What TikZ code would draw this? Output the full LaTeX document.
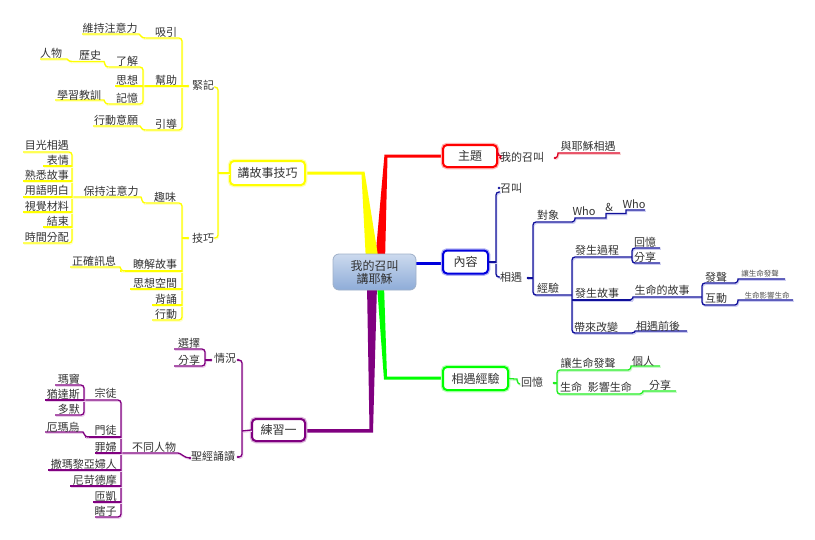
\documentclass[tikz,border=0pt]{standalone}
\usepackage{fontspec}
\setmainfont{Noto Sans CJK TC}
\definecolor{tcol}{HTML}{333333}
\definecolor{ycol}{HTML}{FFFF00}
\definecolor{yshad}{HTML}{FFFFC8}
\definecolor{bcol}{HTML}{10109A}
\definecolor{bshad}{HTML}{CCCCF2}
\definecolor{pcol}{HTML}{800080}
\definecolor{pshad}{HTML}{EBCDEB}
\definecolor{gcol}{HTML}{22EE22}
\definecolor{gshad}{HTML}{CCF8CC}
\definecolor{rcol}{HTML}{DD0022}
\definecolor{rshad}{HTML}{F8CCCC}
\definecolor{mR}{HTML}{FF0000}
\definecolor{mY}{HTML}{FFFF00}
\definecolor{mB}{HTML}{0000DD}
\definecolor{mG}{HTML}{00FF00}
\definecolor{mP}{HTML}{800080}
\definecolor{ctop}{HTML}{CCDAEE}
\definecolor{cbot}{HTML}{8EACD8}
\definecolor{cbord}{HTML}{9FB0C8}
\begin{document}
\begin{tikzpicture}[x=1pt,y=-1pt,
  lb/.style={font=\fontsize{11}{12}\selectfont, text=tcol, inner sep=0pt},
  sm/.style={font=\fontsize{7.5}{8}\selectfont, text=tcol!85, inner sep=0pt},
  subl/.style 2 args={draw=#1, line width=1.3pt, rounded corners=3pt,
     preaction={draw=#2, line width=1.3pt, transform canvas={shift={(0.8pt,-1.3pt)}}}},
  yl/.style={subl={ycol}{yshad}},
  bl/.style={subl={bcol}{bshad}},
  pl/.style={subl={pcol}{pshad}},
  gl/.style={subl={gcol}{gshad}},
  rl/.style={subl={rcol}{rshad}},
  dotc/.style={fill=#1, draw=none, circle, inner sep=0pt, minimum size=2.6pt},
  mbox/.style={draw=#1, line width=2pt, rounded corners=4pt, fill=white,
     minimum height=22pt, inner xsep=4pt, font=\fontsize{12}{13}\selectfont, text=tcol,
     preaction={draw=#1!30, line width=4.5pt}},
]
\useasboundingbox (0,0) rectangle (815,539);

% ---------- thick main branches ----------
\fill[mR] (384.5,154.5) -- (443,154.5) -- (443,157.5) -- (387.5,157.5) -- (385,262) -- (375,262) -- cycle;
\fill[mY] (305,171.5) -- (364.5,171.5) -- (379,262) -- (366,262) -- (361.5,174.5) -- (305,174.5) -- cycle;
\fill[mP] (367,285) -- (377,285) -- (373,432.5) -- (305,432.5) -- (305,429) -- (369.5,429) -- cycle;
\fill[mG] (377,285) -- (384,285) -- (387,376.5) -- (443,376.5) -- (443,379.5) -- (384,379.5) -- cycle;
\draw[mB, line width=3pt] (416,263) -- (443,263);

% ---------- central and main topics ----------
\node[draw=cbord, line width=0.8pt, rounded corners=6pt, top color=ctop, bottom color=cbot,
      minimum width=83pt, minimum height=36pt, align=center, inner sep=0pt,
      font=\fontsize{12}{13}\selectfont, text=tcol] (root) at (374.5,272) {我的召叫\\講耶穌};
\node[mbox=mR, minimum width=54pt] (zt) at (470,156) {主題};
\node[mbox=mY, minimum width=75pt, minimum height=24pt] (js) at (267.5,173) {講故事技巧};
\node[mbox=mB, minimum width=45pt, minimum height=23pt] (nr) at (465.5,262) {內容};
\node[mbox=mG, minimum width=65pt, minimum height=23pt] (xy) at (475.5,378.5) {相遇經驗};
\node[mbox=mP, minimum width=53pt] (lx) at (278.5,430) {練習一};

% ---------- yellow: 講故事技巧 ----------
\draw[yl] (214,87) -- (218,87) -- (218,238) -- (214,238);
\draw[yl] (218,173) -- (js.west);
\node[lb] (jinji) at (203,85) {緊記};
\node[lb] (jiqiao) at (203,238) {技巧};

\draw[yl] (143,38) -- (182,38) -- (182,130) -- (143,130);
\draw[yl] (115,86) -- (188,86);
\node[dotc=ycol] (d1) at (188,86) {};
\node[lb] (xiyin) at (166,32) {吸引};
\node[lb] (bangzhu) at (166,80) {幫助};
\node[lb] (yindao) at (166,124) {引導};
\draw[yl] (82,34) -- (136,34) to[out=0,in=180] (145,38);
\node[lb] (wczy) at (110,28) {維持注意力};
\draw[yl] (106,67) -- (143,67) -- (143,104) -- (106,104);
\node[lb] (liaojie) at (127,61) {了解};
\node[lb] (sixiang) at (127,80) {思想};
\node[lb] (jiyi) at (127,98) {記憶};
\draw[yl] (70,61.5) -- (101,61.5) to[out=0,in=180] (108,67);
\node[lb] (lishi) at (90,55) {歷史};
\draw[yl] (40,59) -- (64,59) to[out=0,in=180] (72,61.5);
\node[lb] (renwu) at (51,53) {人物};
\draw[yl] (55,100) -- (101,100) to[out=0,in=180] (108,104);
\node[lb] (xxjx) at (79,95) {學習教訓};
\draw[yl] (93,126) -- (137,126) to[out=0,in=180] (145,130);
\node[lb] (xdyy) at (116,120) {行動意願};

\draw[yl] (143,203) -- (182,203) -- (182,320) -- (152,320);
\draw[yl] (182,238) -- (188,238);
\node[dotc=ycol] (d2) at (188,238) {};
\node[lb] (quwei) at (165,197) {趣味};
\draw[yl] (120,271) -- (182,271);
\node[lb] (ljgs) at (155,264) {瞭解故事};
\draw[yl] (130,289) -- (182,289);
\node[lb] (sxkj) at (155,283) {思想空間};
\draw[yl] (152,305) -- (182,305);
\node[lb] (beisong) at (166,299) {背誦};
\node[lb] (xingdong) at (166,314) {行動};
\draw[yl] (70,267) -- (117,267) to[out=0,in=180] (124,271);
\node[lb] (zqxx) at (94,261) {正確訊息};
\draw[yl] (72,197) -- (138,197) to[out=0,in=180] (145,203);
\node[lb] (bczy) at (111,191) {保持注意力};
\draw[yl] (23,152) -- (72,152) -- (72,243) -- (23,243);
\draw[yl] (43,166) -- (72,166);
\draw[yl] (23,181) -- (72,181);
\draw[yl] (23,197) -- (72,197);
\draw[yl] (23,212) -- (72,212);
\draw[yl] (43,227) -- (72,227);
\node[lb, anchor=east] (a1) at (69,145) {目光相遇};
\node[lb, anchor=east] (a2) at (69,160) {表情};
\node[lb, anchor=east] (a3) at (69,175) {熟悉故事};
\node[lb, anchor=east] (a4) at (69,190.5) {用語明白};
\node[lb, anchor=east] (a5) at (69,206) {視覺材料};
\node[lb, anchor=east] (a6) at (69,221) {結束};
\node[lb, anchor=east] (a7) at (69,237) {時間分配};

% ---------- purple: 練習一 ----------
\draw[pl] (238,360) -- (242,360) -- (242,457) -- (238,457);
\draw[pl] (242,431) -- (lx.west);
\node[dotc=pcol] (d3) at (238,360) {};
\node[dotc=pcol] (d4) at (238,457) {};
\node[lb] (qk) at (225,358) {情況};
\node[lb] (sjsd) at (213,456) {聖經誦讀};
\draw[pl] (174,349) -- (205,349) -- (205,366) -- (174,366);
\draw[pl] (205,360) -- (211,360);
\node[dotc=pcol] (d5) at (211,360) {};
\node[lb] (xz) at (189,343) {選擇};
\node[lb] (fx1) at (189,360) {分享};
\draw[pl] (121,453) -- (175,453) to[out=0,in=180] (190,458);
\node[dotc=pcol] (d6) at (190,458) {};
\node[lb] (btrw) at (154,447) {不同人物};
\draw[pl] (84,400) -- (121,400) -- (121,517) -- (95,517);
\node[lb] (zt1) at (105.5,393) {宗徒};
\draw[pl] (85,437) -- (121,437);
\node[lb] (mt) at (105.5,430) {門徒};
\draw[pl] (95,453) -- (121,453);
\node[lb] (zf) at (105.5,447) {罪婦};
\draw[pl] (48,470) -- (121,470);
\node[lb, anchor=east] (smly) at (117,464) {撒瑪黎亞婦人};
\draw[pl] (70,486) -- (121,486);
\node[lb, anchor=east] (nkdm) at (117,480) {尼苛德摩};
\draw[pl] (93,502) -- (121,502);
\node[lb] (zk) at (105.5,496) {匝凱};
\node[lb] (xzi) at (105.5,511) {瞎子};
\draw[pl] (55,385) -- (84,385) -- (84,415) -- (55,415);
\draw[pl] (45,400) -- (84,400);
\node[lb, anchor=east] (md) at (80,379) {瑪竇};
\node[lb, anchor=east] (yds) at (80,394) {猶達斯};
\node[lb, anchor=east] (dm) at (80,409) {多默};
\draw[pl] (45,432) -- (80,432) to[out=0,in=180] (88,437);
\node[lb] (emw) at (63,427) {厄瑪烏};

% ---------- red: 主題 ----------
\draw[rl] (zt.east) -- (498,156) to[out=0,in=180] (501,159);
\node[lb] (wdzj) at (522,157) {我的召叫};
\draw[rl] (555,158) to[out=0,in=180] (561,153) -- (620,153);
\node[dotc=rcol] (d7) at (555,158) {};
\node[lb] (yyxy) at (588,146) {與耶穌相遇};

% ---------- blue: 內容 ----------
\draw[bl] (500,192) -- (496,192) -- (496,277) -- (500,277);
\draw[bl] (nr.east) -- (496,262);
\node[dotc=bcol] (d8) at (499,188) {};
\node[lb] (zj) at (511,188) {召叫};
\node[lb] (xy1) at (511,277) {相遇};
\draw[bl] (527,278) -- (533,278);
\node[dotc=bcol] (d9) at (528,278) {};
\draw[bl] (572,222) -- (533,222) -- (533,295) -- (572,295);
\node[lb] (dx) at (548,215) {對象};
\node[lb] (jy) at (548,288) {經驗};
\draw[bl] (572,222) to[out=0,in=180] (578,218) -- (603,218) to[out=0,in=180] (609,213.5) -- (623,213.5) to[out=0,in=180] (629,210) -- (645,210);
\node[lb] (who1) at (584,211) {Who};
\node[lb] (amp) at (609,207) {\&};
\node[lb] (who2) at (634,204) {Who};
\draw[bl] (632,257) -- (572,257) -- (572,333) -- (632,333);
\draw[bl] (572,300) -- (632,300);
\node[lb] (fsgc) at (597,250) {發生過程};
\node[lb] (fsgs) at (597,293) {發生故事};
\node[lb] (dlgb) at (596,327) {帶來改變};
\draw[bl] (660,248) -- (632,248) -- (632,263) -- (660,263);
\node[lb] (hy1) at (645,242) {回憶};
\node[lb] (fx2) at (645,257) {分享};
\draw[bl] (630,300) to[out=0,in=180] (636,297) -- (702,297);
\node[lb] (smdgs) at (662,290) {生命的故事};
\draw[bl] (735,283) -- (702,283) -- (702,305) -- (735,305);
\node[lb] (fs) at (716,277) {發聲};
\node[lb] (hd) at (716,298) {互動};
\draw[bl] (735,283) to[out=0,in=180] (741,279) -- (785,279);
\node[sm] (rsmfs1) at (760,274) {讓生命發聲};
\draw[bl] (735,305) to[out=0,in=180] (741,300) -- (793,300);
\node[sm] (smyx1) at (767,296) {生命影響生命};
\draw[bl] (632,333) to[out=0,in=180] (638,331) -- (687,331);
\node[lb] (xyqh) at (658,326) {相遇前後};

% ---------- green: 相遇經驗 ----------
\draw[gl] (xy.east) -- (514,379) to[out=0,in=180] (520,384);
\node[lb] (hy2) at (532,382) {回憶};
\draw[gl] (553,383) -- (557,383);
\node[dotc=gcol] (d10) at (554,383) {};
\draw[gl] (628,370) -- (557,370) -- (557,394) -- (640,394);
\node[lb] (rsmfs2) at (588,363) {讓生命發聲};
\draw[gl] (628,370) to[out=0,in=180] (634,366) -- (660,366);
\node[lb] (gr) at (643,361) {個人};
\node[lb] (smyx2) at (596,387) {生命\hspace{6pt}影響生命};
\draw[gl] (640,394) to[out=0,in=180] (646,391) -- (676,391);
\node[lb] (fx3) at (660,385) {分享};
\end{tikzpicture}
\end{document}
